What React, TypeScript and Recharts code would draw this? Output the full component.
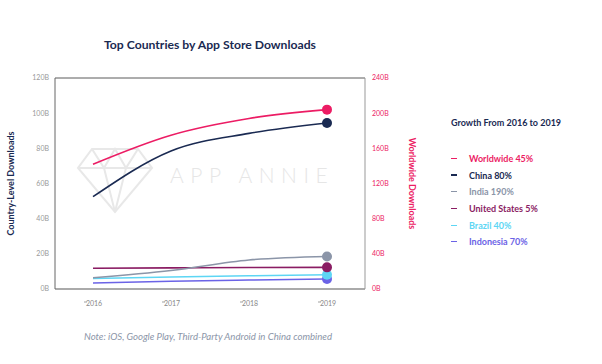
import { LineChart, Line, XAxis, YAxis, CartesianGrid } from 'recharts';

const years = ['2016', '2017', '2018', '2019'];
const worldwide = [142, 175, 194, 204];
const china = [52.5, 78.5, 88.5, 94.4];
const india = [6.4, 10.5, 16.5, 18.5];
const unitedStates = [11.8, 12.0, 12.2, 12.3];
const brazil = [6.0, 6.8, 7.5, 8.1];
const indonesia = [3.4, 4.4, 5.1, 5.7];

const leftTicks = [0, 20, 40, 60, 80, 100, 120];
const rightTicks = [0, 40, 80, 120, 160, 200, 240];

const series = [
  { key: 'worldwide', label: 'Worldwide 45%', color: '#EC1C64', axis: 'right', values: worldwide },
  { key: 'china', label: 'China 80%', color: '#1A2A52', axis: 'left', values: china },
  { key: 'india', label: 'India 190%', color: '#8B95A8', axis: 'left', values: india },
  { key: 'us', label: 'United States 5%', color: '#8A1C63', axis: 'left', values: unitedStates },
  { key: 'brazil', label: 'Brazil 40%', color: '#5DD6F4', axis: 'left', values: brazil },
  { key: 'indonesia', label: 'Indonesia 70%', color: '#6B63E6', axis: 'left', values: indonesia },
];

const data = years.map((year, i) => {
  const row: Record<string, any> = { year };
  series.forEach((s) => {
    row[s.key] = s.values[i];
  });
  return row;
});

const FONT = 'Lato, "Open Sans", sans-serif';
const NAVY = '#1A2A52';
const PINK = '#EC1C64';

const YearTick = ({ x, y, payload }: any) => (
  <g>
    <line x1={x - 9} x2={x - 6} y1={y + 5} y2={y + 5} stroke="#888" strokeWidth={0.8} />
    <text x={x + 1} y={y + 9} textAnchor="middle" fontSize={7} fill="#888" fontFamily={FONT}>
      {payload.value}
    </text>
  </g>
);

const lastDot = (color: string) => (props: any) => {
  const { cx, cy, index } = props;
  if (index !== years.length - 1) return <g key={index} />;
  return <circle key={index} cx={cx} cy={cy} r={5} fill={color} />;
};

const GrowthLegend = () => (
  <div style={{ position: 'absolute', left: 451, top: 117, width: 150, fontFamily: FONT }}>
    <div style={{ fontSize: 9, fontWeight: 700, color: NAVY, marginBottom: 22 }}>
      Growth From 2016 to 2019
    </div>
    {series.map((s) => (
      <div
        key={s.key}
        style={{ display: 'flex', alignItems: 'center', height: 16.7, fontSize: 9, fontWeight: 700, color: s.color }}
      >
        <span style={{ width: 6, height: 1.2, background: s.color, marginRight: 12 }} />
        {s.label}
      </div>
    ))}
  </div>
);

const Watermark = () => (
  <svg
    width={602}
    height={364}
    style={{ position: 'absolute', left: 0, top: 0, pointerEvents: 'none' }}
  >
    <g stroke="#e8e8e8" strokeWidth={2} fill="none">
      <polygon points="92,149 138,149 152,168 115,212 78,168" />
      <polyline points="78,168 152,168" />
      <polyline points="92,149 104,168 115,212 126,168 138,149" />
      <polyline points="104,168 115,149 126,168" />
    </g>
    <text x={170} y={183} fontSize={21} fill="#e6e6e6" fontFamily={FONT} fontWeight={300} letterSpacing={6.5}>
      APP ANNIE
    </text>
  </svg>
);

export default function App() {
  return (
    <div style={{ position: 'absolute', left: 0, top: 0, width: 602, height: 364, background: '#fff' }}>
      <div
        style={{
          position: 'absolute',
          left: 0,
          top: 37,
          width: 420,
          textAlign: 'center',
          fontFamily: FONT,
          fontWeight: 700,
          fontSize: 12.2,
          color: NAVY,
        }}
      >
        Top Countries by App Store Downloads
      </div>
      <Watermark />
      <div style={{ position: 'absolute', left: 0, top: 0 }}>
        <LineChart
          width={602}
          height={364}
          data={data}
          margin={{ top: 78, right: 197, bottom: 45, left: 15 }}
        >
          <CartesianGrid vertical={false} stroke="#5a5a5a" strokeWidth={1} />
          <XAxis
            dataKey="year"
            padding={{ left: 38, right: 38 }}
            axisLine={{ stroke: '#aaa', strokeWidth: 2 }}
            tickLine={false}
            tick={<YearTick />}
            height={30}
            interval={0}
          />
          <YAxis
            yAxisId="left"
            domain={[0, 120]}
            ticks={leftTicks}
            width={40}
            axisLine={{ stroke: '#666' }}
            tickLine={false}
            tickSize={4}
            tickMargin={2}
            tickFormatter={(v) => `${v}B`}
            tick={{ fontSize: 7, fill: '#999', fontFamily: FONT }}
            label={{
              value: 'Country-Level Downloads',
              angle: -90,
              position: 'insideLeft',
              offset: -4,
              style: { fontSize: 9, fontWeight: 700, fill: NAVY, fontFamily: FONT, textAnchor: 'middle' },
            }}
          />
          <YAxis
            yAxisId="right"
            orientation="right"
            domain={[0, 240]}
            ticks={rightTicks}
            width={40}
            axisLine={{ stroke: '#999' }}
            tickLine={false}
            tickSize={4}
            tickMargin={3}
            tickFormatter={(v) => `${v}B`}
            tick={{ fontSize: 7, fill: PINK, fontFamily: FONT, textAnchor: 'start' }}
            label={{
              value: 'Worldwide Downloads',
              angle: 90,
              position: 'insideRight',
              offset: -7,
              style: { fontSize: 9, fontWeight: 700, fill: PINK, fontFamily: FONT, textAnchor: 'middle' },
            }}
          />
          {series
            .slice()
            .reverse()
            .map((s) => (
              <Line
                key={s.key}
                yAxisId={s.axis}
                type="monotone"
                dataKey={s.key}
                name={s.label}
                stroke={s.color}
                strokeWidth={1.6}
                dot={lastDot(s.color)}
                activeDot={false}
                isAnimationActive={false}
              />
            ))}
        </LineChart>
      </div>
      <GrowthLegend />
      <div
        style={{
          position: 'absolute',
          left: 84,
          top: 331,
          fontFamily: FONT,
          fontStyle: 'italic',
          fontSize: 9.6,
          color: '#8B95A8',
        }}
      >
        Note: iOS, Google Play, Third-Party Android in China combined
      </div>
    </div>
  );
}
